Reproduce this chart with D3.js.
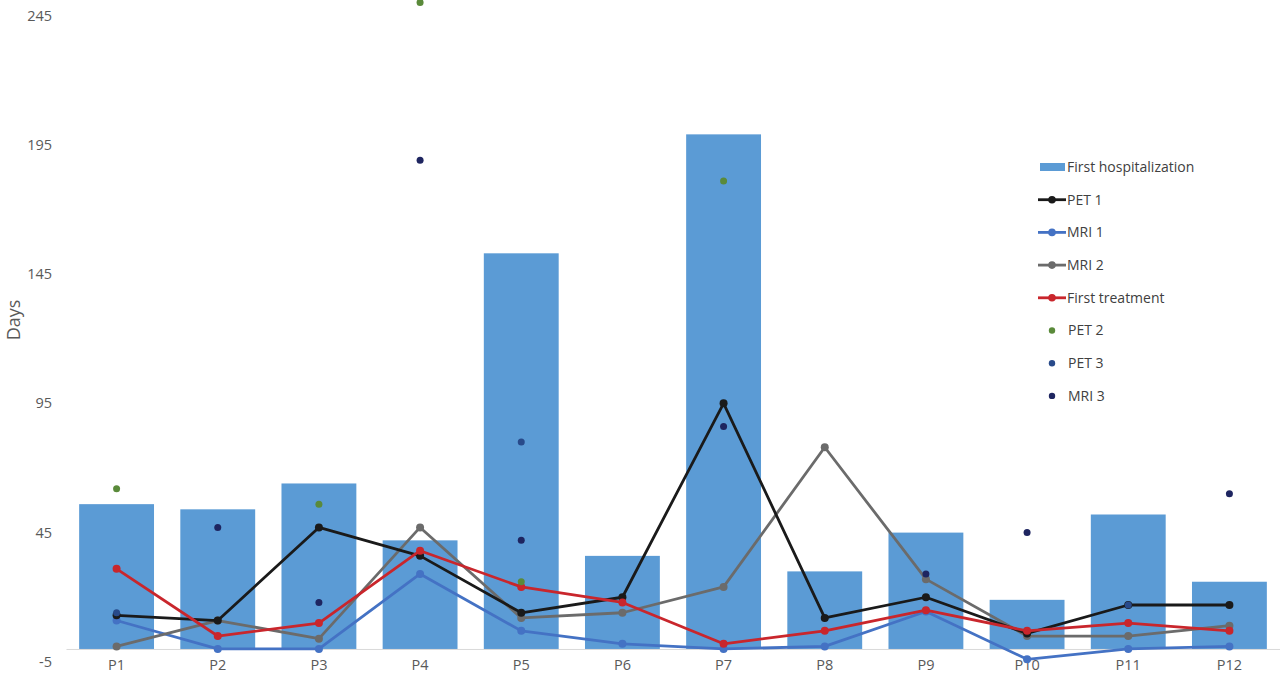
<!DOCTYPE html>
<html><head><meta charset="utf-8">
<script src="https://cdn.jsdelivr.net/npm/d3@7"></script>
<style>body{margin:0;background:#fff}svg{display:block}text{font-family:"Open Sans",sans-serif}</style>
</head><body><svg id="c" width="1280" height="675"></svg>
<script>
const categories = ["P1","P2","P3","P4","P5","P6","P7","P8","P9","P10","P11","P12"];
const firstHospitalization = [56,54,64,42,153,36,199,30,45,19,52,26];
const pet1 = [13,11,47,36,14,20,95,12,20,6,17,17];
const mri1 = [11,0,0,29,7,2,0,1,14.5,-4,0,1];
const mri2 = [1,11,4,47,12,14,24,78,27,5,5,9];
const firstTreatment = [31,5,10,38,24,18,2,7,15,7,10,7];
const pet2 = [62,null,56,250,26,null,181,null,null,null,null,null];
const pet3 = [14,null,null,null,80,null,null,null,null,null,17,null];
const mri3 = [null,47,18,189,42,null,86,null,29,45,null,60];
const yTicks = [-5,45,95,145,195,245];

const svg = d3.select("#c");
const x = d3.scaleBand().domain(categories).range([66,1280]).paddingInner(0.26).paddingOuter(0.13);
const y = d3.scaleLinear().domain([-5,245]).range([661.9,15.4]);
const cx = d => x(d) + x.bandwidth()/2;

// y axis labels
const yAxis = d3.axisLeft(y).tickValues(yTicks).tickSize(0).tickPadding(0).tickFormat(d => String(d));
const ya = svg.append("g").attr("transform","translate(52,0)").call(yAxis);
ya.select(".domain").remove();
ya.selectAll("text").attr("fill","#595959").style("font-size","14.5px").style("font-family","Open Sans");

svg.append("text").attr("transform","translate(20,320) rotate(-90)").attr("text-anchor","middle")
  .attr("fill","#595959").style("font-size","18px")
  .style("font-family","'Liberation Sans Narrow','Open Sans',sans-serif").text("Days");

// bars
svg.append("g").selectAll("rect").data(categories).join("rect")
  .attr("x", d => x(d)).attr("width", x.bandwidth())
  .attr("y", (d,i) => y(firstHospitalization[i]))
  .attr("height", (d,i) => y(0) - y(firstHospitalization[i]))
  .attr("fill","#5B9BD5");

// x axis
const xAxis = d3.axisBottom(x).tickSize(0).tickPadding(0);
const xa = svg.append("g").attr("transform",`translate(0,${y(0)})`).call(xAxis);
xa.select(".domain").attr("stroke","#D9D9D9").attr("stroke-width",1);
xa.selectAll("text").attr("y", 665 - y(0)).attr("dy","0.35em").attr("fill","#595959").style("font-size","14.5px").style("font-family","Open Sans");

// lines
const lineSeries = [
  {name:"PET 1", vals:pet1, color:"#1A1A1A"},
  {name:"MRI 1", vals:mri1, color:"#4472C4"},
  {name:"MRI 2", vals:mri2, color:"#6B6B6B"},
  {name:"First treatment", vals:firstTreatment, color:"#C9262C"}
];
const lineGen = d3.line().x((d,i) => cx(categories[i])).y(d => y(d));
const drawOrder = [lineSeries[1], lineSeries[2], lineSeries[0], lineSeries[3]];
drawOrder.forEach(s => {
  const g = svg.append("g");
  g.append("path").datum(s.vals).attr("d", lineGen).attr("fill","none")
    .attr("stroke", s.color).attr("stroke-width",2.8).attr("stroke-linejoin","round");
  g.selectAll("circle").data(s.vals).join("circle")
    .attr("cx",(d,i)=>cx(categories[i])).attr("cy", d=>y(d)).attr("r",4).attr("fill",s.color);
});

// scatter series
const dotSeries = [
  {name:"PET 2", vals:pet2, color:"#5A8A3A"},
  {name:"PET 3", vals:pet3, color:"#284A8A"},
  {name:"MRI 3", vals:mri3, color:"#1E2560"}
];
dotSeries.forEach(s => {
  svg.append("g").selectAll("circle")
    .data(s.vals.map((v,i)=>({v,c:categories[i]})).filter(d=>d.v!==null))
    .join("circle").attr("cx",d=>cx(d.c)).attr("cy",d=>y(d.v)).attr("r",3.5).attr("fill",s.color);
});

// legend
const legendItems = [
  {name:"First hospitalization", type:"bar", color:"#5B9BD5"},
  ...lineSeries.map(s=>({name:s.name,type:"line",color:s.color})),
  ...dotSeries.map(s=>({name:s.name,type:"dot",color:s.color}))
];
const lg = svg.append("g").attr("transform","translate(1038,167)");
legendItems.forEach((it,i) => {
  const g = lg.append("g").attr("transform",`translate(0,${i*32.7})`);
  if (it.type==="bar") g.append("rect").attr("x",2).attr("y",-4).attr("width",25).attr("height",8).attr("fill",it.color);
  if (it.type==="line") {
    g.append("line").attr("x1",0).attr("x2",28).attr("stroke",it.color).attr("stroke-width",2.8);
    g.append("circle").attr("cx",14).attr("r",3.8).attr("fill",it.color);
  }
  if (it.type==="dot") g.append("circle").attr("cx",14).attr("r",3.2).attr("fill",it.color);
  g.append("text").attr("x", it.type==="dot" ? 30 : 29).attr("dy","0.35em").attr("fill","#404040")
    .style("font-size","14px").text(it.name);
});
</script></body></html>
